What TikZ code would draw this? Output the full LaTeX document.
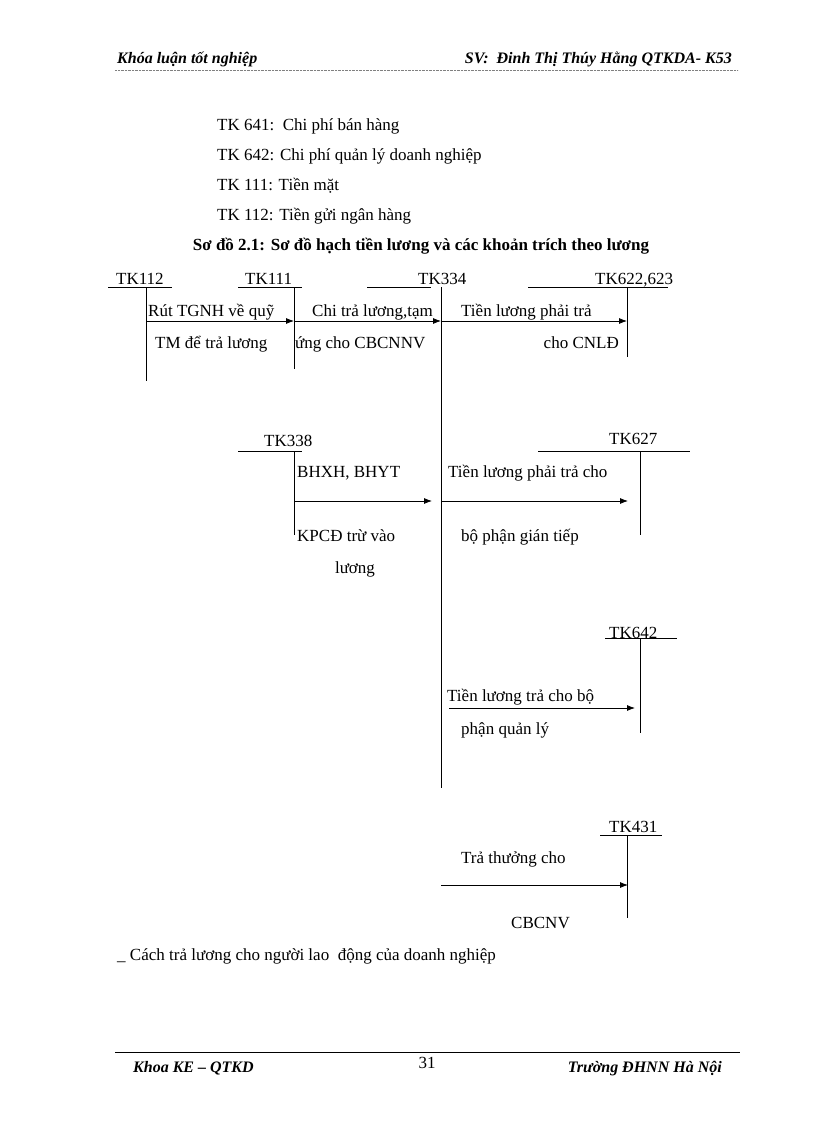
\documentclass[tikz,border=0pt]{standalone}
\usepackage{fontspec}
\setmainfont{Liberation Serif}
\usetikzlibrary{arrows.meta}
\begin{document}
\begin{tikzpicture}[x=1pt,y=-1pt,
  txt/.style={anchor=base west,inner sep=0pt,font=\fontsize{17}{20}\selectfont},
  hd/.style={anchor=base west,inner sep=0pt,font=\fontsize{16}{19}\selectfont\bfseries\itshape},
  acc/.style={line width=0.8pt},
  arr/.style={line width=0.8pt,-{Latex[length=8pt,width=6pt]}}]
\useasboundingbox (0,0) rectangle (816,1123);
% header
\node[hd] (h1) at (117,64) {Khóa luận tốt nghiệp};
\node[hd,anchor=base east] (h2) at (732,64) {SV:\ \ Đinh Thị Thúy Hằng QTKDA- K53};
\draw[gray,densely dotted] (115,70) -- (738,70);
% list
\node[txt] (l1) at (217,131) {TK 641:\ \ Chi phí bán hàng};
\node[txt] (l2) at (217,161) {TK 642: Chi phí quản lý doanh nghiệp};
\node[txt] (l3) at (217,191) {TK 111: Tiền mặt};
\node[txt] (l4) at (217,221) {TK 112: Tiền gửi ngân hàng};
\node[txt,font=\fontsize{17}{20}\selectfont\bfseries,anchor=base] (ttl) at (421,251) {Sơ đồ 2.1: Sơ đồ hạch tiền lương và các khoản trích theo lương};
% accounts
\node[txt] (a112) at (116,284) {TK112};
\draw[acc] (108,287) -- (172,287); \draw[acc] (146,287) coordinate (v112) -- (146,381);
\node[txt] (a111) at (245,284) {TK111};
\draw[acc] (238,287) -- (302,287); \draw[acc] (294,287) coordinate (v111) -- (294,369);
\node[txt] (a334) at (418,284) {TK334};
\draw[acc] (367,287) -- (431,287); \draw[acc] (441,287) coordinate (v334) -- (441,788);
\node[txt] (a622) at (595,284) {TK622,623};
\draw[acc] (528,287) -- (668,287); \draw[acc] (627,287) -- (627,357);
\coordinate (p1) at (146,321); \coordinate (p2) at (294,321); \coordinate (p3) at (441,321); \coordinate (p4) at (627,321);
\draw[arr] (p1) -- (p2); \draw[arr] (p2) -- (p3); \draw[arr] (p3) -- (p4);
\node[txt] (t1) at (148,316) {Rút TGNH về quỹ};
\node[txt] (t2) at (155,348) {TM để trả lương};
\node[txt] (t3) at (312,316) {Chi trả lương,tạm};
\node[txt] (t4) at (295,348) {ứng cho CBCNNV};
\node[txt] (t5) at (461,316) {Tiền lương phải trả};
\node[txt,anchor=base east] (t6) at (619,348) {cho CNLĐ};
% 338
\node[txt] (a338) at (264,446) {TK338};
\draw[acc] (238,451) -- (302,451); \draw[acc] (294,451) -- (294,535);
\coordinate (q1) at (294,501); \coordinate (q2) at (432,501);
\draw[arr] (q1) -- (q2);
\node[txt] (t7) at (297,477) {BHXH, BHYT};
\node[txt] (t8) at (297,541) {KPCĐ trừ vào};
\node[txt,anchor=base] (t9) at (355,573) {lương};
% 627
\node[txt] (a627) at (609,444) {TK627};
\draw[acc] (538,451) -- (690,451); \draw[acc] (640,451) -- (640,535);
\coordinate (r1) at (441,501); \coordinate (r2) at (628,501);
\draw[arr] (r1) -- (r2);
\node[txt] (t10) at (448,477) {Tiền lương phải trả cho};
\node[txt] (t11) at (461,541) {bộ phận gián tiếp};
% 642
\node[txt] (a642) at (609,638) {TK642};
\draw[acc] (605,638) -- (677,638); \draw[acc] (640,638) -- (640,733);
\coordinate (s1) at (449,708); \coordinate (s2) at (635,708);
\draw[arr] (s1) -- (s2);
\node[txt] (t12) at (447,701) {Tiền lương trả cho bộ};
\node[txt] (t13) at (461,734) {phận quản lý};
% 431
\node[txt] (a431) at (609,832) {TK431};
\draw[acc] (600,835) -- (662,835); \draw[acc] (627,835) -- (627,918);
\coordinate (u1) at (441,885); \coordinate (u2) at (628,885);
\draw[arr] (u1) -- (u2);
\node[txt] (t14) at (461,863) {Trả thưởng cho};
\node[txt] (t15) at (511,928) {CBCNV};
% bottom
\node[txt] (b1) at (117,960) {\_ Cách trả lương cho người lao\ \ động của doanh nghiệp};
% footer
\draw[line width=1pt] (115,1052) -- (740,1052);
\node[hd] (f1) at (133,1072) {Khoa KE – QTKD};
\node[txt,anchor=base] (f2) at (427,1068) {31};
\node[hd,anchor=base east] (f3) at (722,1072) {Trường ĐHNN Hà Nội};
\end{tikzpicture}
\end{document}
